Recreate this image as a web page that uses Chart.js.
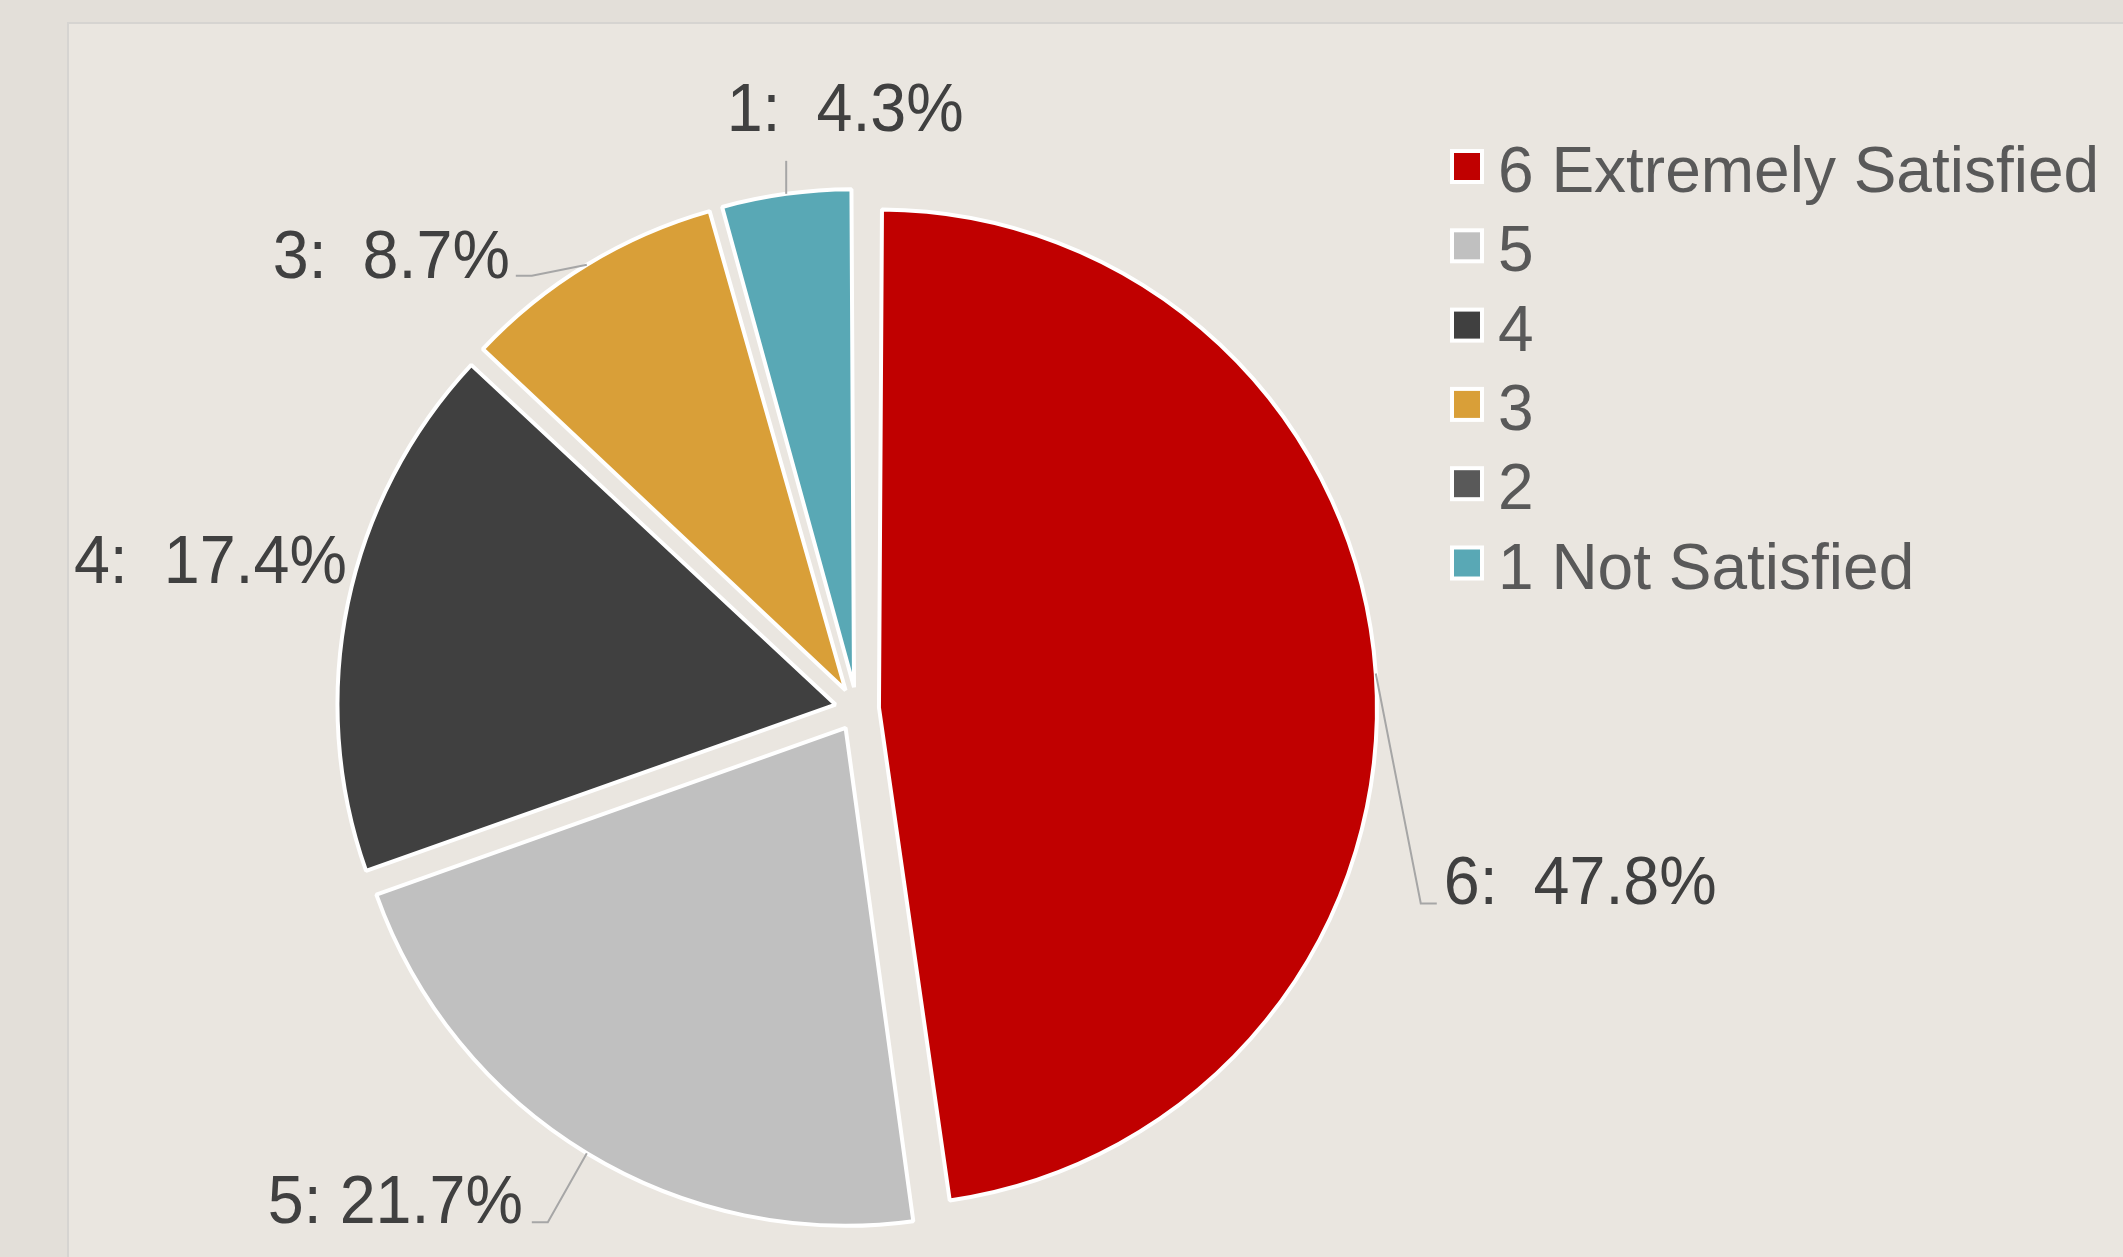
<!DOCTYPE html>
<html lang="en">
<head>
<meta charset="UTF-8">
<title>Satisfaction</title>
<script src="https://cdn.jsdelivr.net/npm/chart.js@4"></script>
<style>
  html, body { margin: 0; padding: 0; background: #E3DFD9; }
  body { width: 2123px; height: 1257px; position: relative; overflow: hidden; }
  #panel { position: absolute; left: 67px; top: 22px; right: -10px; bottom: -10px; background: #EAE6E0; border: 2px solid #D6D4D1; }
  #wrap { position: absolute; left: 0; top: 0; width: 2123px; height: 1257px; }
</style>
</head>
<body>
<div id="panel"></div>
<div id="wrap"><canvas id="pie"></canvas></div>
<script>
const categories = ['6 Extremely Satisfied', '5', '4', '3', '2', '1 Not Satisfied']
const responses = [11, 5, 4, 2, 0, 1]
const percentLabels = ['6:  47.8%', '5: 21.7%', '4:  17.4%', '3:  8.7%', '2: 0.0%', '1:  4.3%']
const sliceColors = ['#C00000', '#C0C0C0', '#404040', '#D99F38', '#595959', '#59A8B5']

const RADIUS = 498
const EXPLODE = 88 // chart.js moves a slice by offset / 4

// leader line points and text anchor, relative to the slice edge at its middle
const labelLayout = [
  { line: [[45, 230], [61, 230]], text: [68, 230], align: 'left' },
  { line: [[-39, 69], [-55, 69]], text: [-64, 70], align: 'right' },
  { line: [], text: [-1, -20], align: 'right' },
  { line: [[-55, 11], [-71, 11]], text: [-77, 13], align: 'right' },
  null,
  { line: [[0, -33]], text: [59, -63], align: 'center' },
]

const sliceLabels = {
  id: 'sliceLabels',
  beforeDatasetDraw(chart, args) {
    // chart.js grows exploded slices a bit, keep them all on one radius
    args.meta.data.forEach((arc) => {
      const fix = 1 - Math.sin(Math.min(Math.PI, arc.circumference))
      arc.outerRadius = RADIUS - (EXPLODE / 4) * fix
    })
  },
  afterDatasetsDraw(chart) {
    const ctx = chart.ctx
    const meta = chart.getDatasetMeta(0)
    meta.data.forEach((arc, i) => {
      const layout = labelLayout[i]
      if (!layout || !responses[i]) return
      const mid = (arc.startAngle + arc.endAngle) / 2
      const dist = RADIUS + EXPLODE / 4
      const ax = arc.x + Math.cos(mid) * dist
      const ay = arc.y + Math.sin(mid) * dist

      ctx.save()
      if (layout.line.length) {
        ctx.strokeStyle = '#A6A6A6'
        ctx.lineWidth = 2
        ctx.beginPath()
        ctx.moveTo(ax, ay)
        layout.line.forEach(([dx, dy]) => ctx.lineTo(ax + dx, ay + dy))
        ctx.stroke()
      }
      ctx.font = '68px "Liberation Sans", Arial, sans-serif'
      ctx.fillStyle = '#404040'
      ctx.textAlign = layout.align
      ctx.textBaseline = 'alphabetic'
      ctx.translate(ax + layout.text[0], ay + layout.text[1])
      ctx.scale(0.95, 1)
      ctx.fillText(percentLabels[i], 0, 0)
      ctx.restore()
    })
  },
}

const sideLegend = {
  id: 'sideLegend',
  afterDraw(chart) {
    const ctx = chart.ctx
    const x = 1453
    const y = 152
    const pitch = 79.3
    ctx.save()
    categories.forEach((name, i) => {
      const top = y + i * pitch
      ctx.fillStyle = sliceColors[i]
      ctx.fillRect(x, top, 28, 29)
      ctx.strokeStyle = '#FFFFFF'
      ctx.lineWidth = 4
      ctx.strokeRect(x - 1, top - 1, 30, 31)

      ctx.font = '64px "Liberation Sans", Arial, sans-serif'
      ctx.fillStyle = '#595959'
      ctx.textBaseline = 'alphabetic'
      ctx.fillText(name, x + 45, top + 40)
    })
    ctx.restore()
  },
}

new Chart(document.getElementById('pie'), {
  type: 'pie',
  data: {
    labels: categories,
    datasets: [{
      data: responses,
      backgroundColor: sliceColors,
      borderColor: '#FFFFFF',
      borderWidth: 4,
      offset: EXPLODE,
    }],
  },
  options: {
    responsive: true,
    maintainAspectRatio: false,
    animation: false,
    radius: RADIUS,
    layout: { padding: { left: 0, right: 409, top: 161, bottom: 0 } },
    plugins: {
      legend: { display: false },
      tooltip: { enabled: false },
    },
  },
  plugins: [sliceLabels, sideLegend],
})
</script>
</body>
</html>
